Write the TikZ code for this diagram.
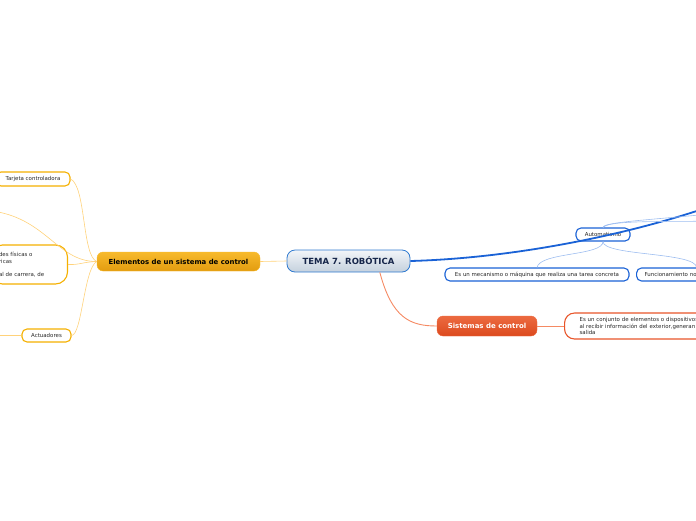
\documentclass[tikz,border=0pt]{standalone}
\usepackage{fontspec}
\setmainfont{DejaVu Sans}
\definecolor{temaborde}{HTML}{2F7AD0}
\definecolor{tematexto}{HTML}{16264A}
\definecolor{temaarriba}{HTML}{F2F5F9}
\definecolor{temaabajo}{HTML}{C5D1DD}
\definecolor{oro}{HTML}{F5B000}
\definecolor{oroarriba}{HTML}{F7BA2C}
\definecolor{oroabajo}{HTML}{E39C10}
\definecolor{orolinea}{HTML}{FFD27A}
\definecolor{azul}{HTML}{1A62D6}
\definecolor{azulclaro}{HTML}{9DBDF0}
\definecolor{rojo}{HTML}{E8552A}
\definecolor{rojoarriba}{HTML}{EC6A40}
\definecolor{rojoabajo}{HTML}{DC4A1E}
\definecolor{rojolinea}{HTML}{F58A63}
\begin{document}
\begin{tikzpicture}[x=1pt,y=-1pt,
    leaf/.style={draw, line width=1.1pt, fill=white, rounded corners=5pt,
      inner sep=0pt, font=\fontsize{5.45}{6.6}\selectfont, text=black!85},
    oroleaf/.style={leaf, draw=oro},
    azulleaf/.style={leaf, draw=azul},
    rojoleaf/.style={leaf, draw=rojo, rounded corners=10pt},
    tema/.style={draw=temaborde, line width=0.8pt, rounded corners=8pt,
      top color=temaarriba, bottom color=temaabajo,
      minimum width=123pt, minimum height=22pt, inner sep=0pt,
      font=\bfseries\fontsize{8.5}{9}\selectfont, text=tematexto},
    rama/.style={rounded corners=6pt, inner sep=0pt,
      font=\bfseries\fontsize{6.9}{7}\selectfont},
    conector/.style={line width=0.6pt}
  ]
  \clip (0,0) rectangle (696,520);
  % tema central
  \node[tema] (tema) at (348.5,261) {TEMA 7. ROBÓTICA};
  % rama naranja
  \node[rama, draw=oroarriba, top color=oroarriba, bottom color=oroabajo,
    minimum width=163pt, minimum height=19pt] (elem) at (178.5,261.5)
    {Elementos de un sistema de control};
  \node[oroleaf, minimum width=74pt, minimum height=14pt] (tarj) at (33,179)
    {Tarjeta controladora};
  \node[oroleaf, rounded corners=12pt, minimum height=39pt, text width=60pt,
    inner xsep=8.5pt, align=left] (sens) at (29,264.5)
    {des físicas o\\ricas\\[6.6pt]al de carrera, de};
  \node[oroleaf, minimum width=49pt, minimum height=13pt] (act) at (46.5,335.5)
    {Actuadores};
  \coordinate (izq1) at (-20,210);
  \coordinate (izq2) at (-20,335.5);
  \draw[conector, orolinea] (tema.west) -- (elem.east);
  \draw[conector, orolinea] (elem.west) .. controls (82,256) and (86,186) .. (tarj.east);
  \draw[conector, orolinea] (elem.west) .. controls (82,262) and (80,265) .. (sens.east);
  \draw[conector, orolinea] (elem.west) .. controls (84,268) and (82,335) .. (act.east);
  \draw[conector, orolinea] (elem.west) .. controls (55,262) and (45,212) .. (izq1);
  \draw[conector, orolinea] (act.west) -- (izq2);
  % rama azul
  \node[azulleaf, minimum width=54pt, minimum height=13pt] (auto) at (603,234.5)
    {Automatismo};
  \node[azulleaf, minimum width=184pt, minimum height=13pt] (mec) at (537,274.5)
    {Es un mecanismo o máquina que realiza una tarea concreta};
  \node[azulleaf, anchor=west, minimum height=13pt, text width=104pt,
    inner xsep=8pt, align=left] (func) at (636,274.5) {Funcionamiento no};
  \coordinate (der1) at (720,203);
  \coordinate (der2) at (720,213);
  \coordinate (der3) at (720,221);
  \draw[azul, line width=1.8pt] (tema.east) .. controls (520,258) and (640,232) .. (der1);
  \draw[conector, azulclaro] (auto.north) .. controls (603,222) and (650,220) .. (der2);
  \draw[conector, azulclaro] (auto.north) .. controls (610,220) and (660,222) .. (der3);
  \draw[conector, azulclaro] (auto.south) .. controls (603,256) and (540,252) .. (mec.north);
  \draw[conector, azulclaro] (auto.south) .. controls (603,256) and (696,252) .. (func.north);
  % rama roja
  \node[rama, draw=rojoarriba, top color=rojoarriba, bottom color=rojoabajo,
    text=white, font=\bfseries\fontsize{7}{7}\selectfont,
    minimum width=100pt, minimum height=20pt] (sis) at (487,326) {Sistemas de control};
  \node[rojoleaf, anchor=west, text width=170pt, inner xsep=15pt, align=left,
    minimum height=26pt] (conj) at (564,326)
    {Es un conjunto de elementos o dispositivos\\al recibir información del exterior,generan\\salida};
  \draw[conector, rojolinea, line width=0.9pt] (tema.-20) .. controls (392,318) and (410,326) .. (sis.west);
  \draw[conector, rojolinea] (sis.east) -- (conj.west);
\end{tikzpicture}
\end{document}
